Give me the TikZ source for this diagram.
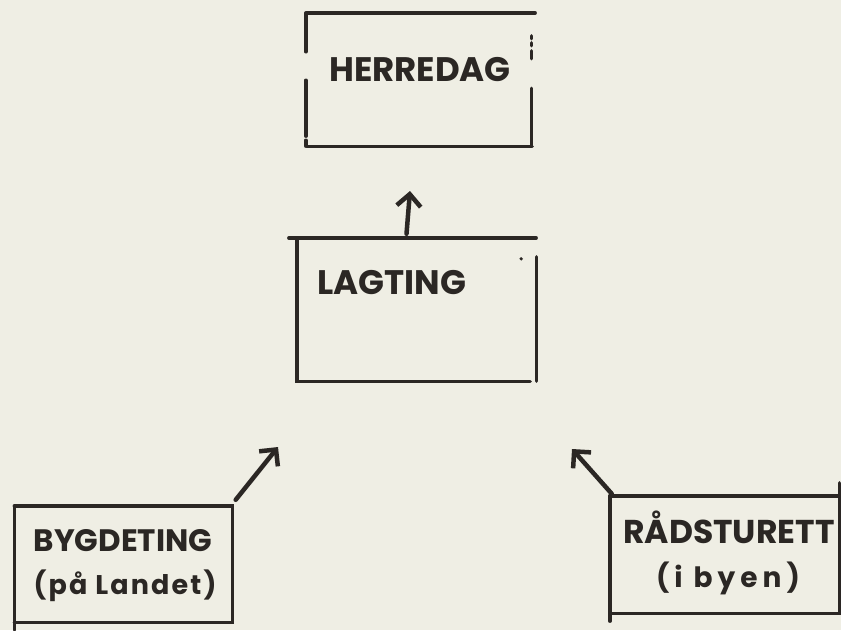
\documentclass[tikz,border=0pt]{standalone}
\usepackage{fontspec}
\setmainfont{Poppins}
\usetikzlibrary{arrows.meta}
\definecolor{paper}{HTML}{EFEEE4}
\definecolor{ink}{HTML}{2B2724}
\begin{document}
\begin{tikzpicture}[x=1pt,y=-1pt,
  ink line/.style={draw=ink,line width=3.4pt,line cap=round},
  boxnode/.style={draw=none,inner sep=0pt,rectangle},
  label text/.style={text=ink,inner sep=0pt,font=\fontsize{#1}{#1}\selectfont\bfseries},
  upward/.style={ink line,line width=4.5pt,-{Straight Barb[length=12pt,width=24pt,line width=4.5pt]}}]
\fill[paper] (0,0) rectangle (841,630);
\useasboundingbox (0,0) rectangle (841,630);
% boxes (named nodes, sides drawn by hand)
\node[boxnode,minimum width=225pt,minimum height=133pt] (herredag) at (418.5,79.5) {};
\node[boxnode,minimum width=239pt,minimum height=143pt] (lagting) at (416.5,309.5) {};
\node[boxnode,minimum width=218pt,minimum height=116pt] (bygdeting) at (123.5,564) {};
\node[boxnode,minimum width=229pt,minimum height=117pt] (radsturett) at (724.5,554.5) {};
% HERREDAG box
\draw[ink line] ([xshift=1pt]herredag.north west) -- ([xshift=4pt]herredag.north east);
\draw[ink line] (herredag.north west) -- ++(0,39);
\draw[ink line] ([yshift=66pt]herredag.south west) -- ([yshift=10pt]herredag.south west);
\draw[ink line] ([yshift=6pt]herredag.south west) -- (herredag.south west);
\draw[ink line] ([xshift=1pt]herredag.south west) -- ([xshift=1pt]herredag.south east);
\draw[ink line] ([yshift=58pt]herredag.south east) -- (herredag.south east);
\draw[ink line] ([yshift=-23pt]herredag.north east) -- ++(0,3);
\draw[ink line] ([yshift=-30pt]herredag.north east) -- ++(0,3);
\draw[ink line] ([yshift=-38pt]herredag.north east) -- ++(0,8);
% LAGTING box
\draw[ink line] ([xshift=-8pt]lagting.north west) -- (lagting.north east);
\draw[ink line] (lagting.north west) -- (lagting.south west) -- ([xshift=-6pt]lagting.south east);
\draw[ink line] ([yshift=-19pt]lagting.north east) -- (lagting.south east);
\fill[ink] ([xshift=-15pt,yshift=-21pt]lagting.north east) circle (1.8pt);
% BYGDETING box
\draw[ink line] (bygdeting.north west) -- (bygdeting.north east) -- (bygdeting.south east) -- (bygdeting.south west);
\draw[ink line] (bygdeting.north west) -- ([yshift=-8pt]bygdeting.south west);
% RADSTURETT box
\draw[ink line] (radsturett.north west) -- (radsturett.north east);
\draw[ink line] ([yshift=13pt]radsturett.north east) -- (radsturett.south east) -- (radsturett.south west);
\draw[ink line] (radsturett.north west) -- ([yshift=-8pt]radsturett.south west);
% texts
\node[label text=34] (tH) at (420,70) {HERREDAG};
\node[label text=34] (tL) at (392,283) {LAGTING};
\node[label text=31] (tB) at (123,541) {BYGDETING};
\node[label text=27] (tB2) at (125,586) {\addfontfeature{LetterSpace=8}(på Landet)};
\node[label text=33] (tR) at (729,527) {RÅDSTURETT};
\node[label text=28] (tR2) at (728,578) {\addfontfeature{LetterSpace=18}(i byen)};
% arrow ends
\coordinate (endH) at (410,191);
\coordinate (endB) at (278,447);
\coordinate (endR) at (572,449);
\draw[upward] ([xshift=-10pt,yshift=4pt]lagting.north) -- (endH);
\draw[upward] ([xshift=3pt,yshift=6pt]bygdeting.north east) -- (endB);
\draw[upward] ([xshift=2pt,yshift=2pt]radsturett.north west) -- (endR);
\end{tikzpicture}
\end{document}
